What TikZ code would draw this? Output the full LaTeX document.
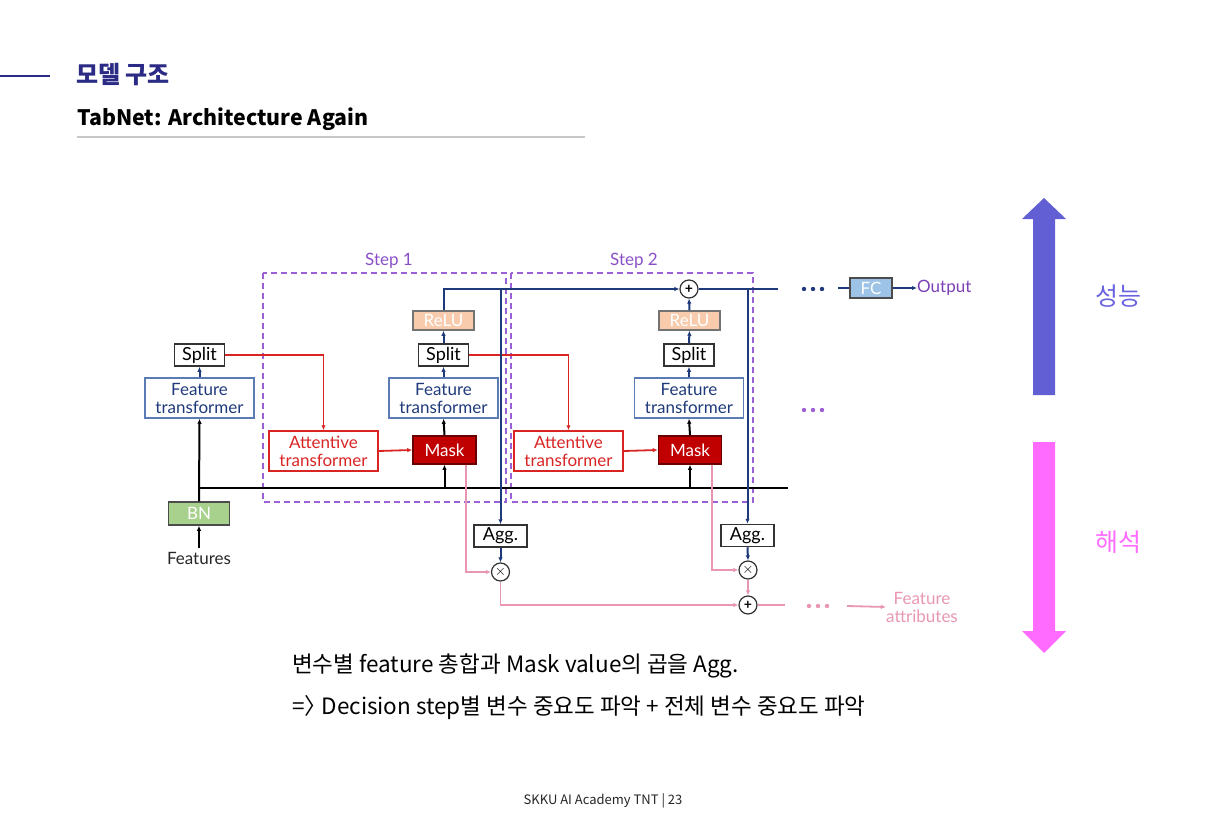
\documentclass[tikz,border=0pt]{standalone}
\usepackage{fontspec}
\setmainfont{Noto Sans CJK KR}
\newfontfamily\krfont{Noto Sans CJK KR}
\newfontfamily\dgfont{Lato}
\usetikzlibrary{arrows.meta,calc}

\definecolor{titlenavy}{HTML}{2B2A85}
\definecolor{navy}{HTML}{1F3A7A}
\definecolor{ftblue}{HTML}{5B7BB5}
\definecolor{atred}{HTML}{D92424}
\definecolor{maskred}{HTML}{C00000}
\definecolor{maskedge}{HTML}{6B0000}
\definecolor{pinkline}{HTML}{E896B4}
\definecolor{stepviolet}{HTML}{9B5FD6}
\definecolor{steptext}{HTML}{8A4FC8}
\definecolor{outviolet}{HTML}{7A3FB5}
\definecolor{relufill}{HTML}{F8CBAD}
\definecolor{bnfill}{HTML}{A9D18E}
\definecolor{fcfill}{HTML}{9DC3E6}
\definecolor{perfarrow}{HTML}{625ED4}
\definecolor{perftext}{HTML}{6A64E0}
\definecolor{interparrow}{HTML}{FF6BFF}
\definecolor{rulegray}{HTML}{C8C8C8}

\begin{document}
\begin{tikzpicture}[x=1pt,y=-1pt,
  dg/.style={font=\dgfont\fontsize{17}{18}\selectfont},
  blk/.style={draw, rectangle, inner sep=0pt, align=center, line width=1.5pt, dg},
  ftbox/.style={blk, draw=ftblue, text=navy, minimum width=109pt, minimum height=40pt},
  splitbox/.style={blk, draw=black!80, fill=white, minimum width=50pt, minimum height=22pt, font=\dgfont\fontsize{18}{19}\selectfont},
  relubox/.style={blk, draw=black!55, fill=relufill, text=white, minimum width=61pt, minimum height=19pt},
  maskbox/.style={blk, draw=maskedge, fill=maskred, text=white, minimum width=63pt, minimum height=28pt},
  atbox/.style={blk, draw=atred, text=atred, minimum width=109pt, minimum height=40pt},
  aggbox/.style={blk, draw=black!80, fill=white, minimum width=53pt, minimum height=22pt, font=\dgfont\fontsize{18}{19}\selectfont},
  opnode/.style={draw=black!80, circle, fill=white, minimum size=18pt, inner sep=0pt, line width=1.2pt, font=\dgfont\bfseries\fontsize{14}{14}\selectfont},
  tip/.style={-{Latex[length=5pt,width=4.5pt]}},
  navyline/.style={draw=navy, line width=2pt},
  blackline/.style={draw=black, line width=2pt},
  redline/.style={draw=atred, line width=1.8pt},
  pinkl/.style={draw=pinkline, line width=1.8pt},
  stepframe/.style={draw=stepviolet, dash pattern=on 6pt off 4pt, line width=1.8pt},
]
\useasboundingbox (0,0) rectangle (1207,832);

% ---- header ----
\coordinate (hl1) at (0,76);
\coordinate (hl2) at (50,76);
\draw[draw=titlenavy, line width=1.2pt] (hl1) -- (hl2);
\node[anchor=west, inner sep=0pt, text=titlenavy, font=\krfont\bfseries\fontsize{24}{27}\selectfont] (sect) at (76,75) {모델 구조};
\node[anchor=base west, inner sep=0pt, font=\krfont\bfseries\fontsize{21.3}{26}\selectfont] (title) at (77,125) {TabNet: Architecture Again};
\coordinate (rl1) at (77,137);
\coordinate (rl2) at (585,137);
\draw[draw=rulegray, line width=1.5pt] (rl1) -- (rl2);

% ---- decision step frames ----
\draw[stepframe] (263,273) rectangle (506,502);
\draw[stepframe] (511,273) rectangle (753,502);
\node[dg, text=steptext] (s1lab) at (389,261) {Step 1};
\node[dg, text=steptext] (s2lab) at (634,261) {Step 2};

% ---- blocks ----
\node[dg, text=black!85] (feat) at (199,558) {Features};
\node[blk, draw=black!70, fill=bnfill, text=white, minimum width=61pt, minimum height=23pt] (bn) at (199,513.5) {BN};
\node[ftbox] (ft0) at (199.5,398) {Feature\\transformer};
\node[splitbox] (sp0) at (199.5,355) {Split};

\node[atbox] (at1) at (323.5,451) {Attentive\\transformer};
\node[maskbox] (mk1) at (444.5,450) {Mask};
\node[ftbox] (ft1) at (443.5,398) {Feature\\transformer};
\node[splitbox] (sp1) at (443.5,355) {Split};
\node[relubox] (ru1) at (443.5,320.5) {ReLU};

\node[atbox] (at2) at (568.5,451) {Attentive\\transformer};
\node[maskbox] (mk2) at (690,450) {Mask};
\node[ftbox] (ft2) at (689,398) {Feature\\transformer};
\node[splitbox] (sp2) at (689,355) {Split};
\node[relubox] (ru2) at (689.5,320.5) {ReLU};
\node[opnode] (pl) at (689,289) {+};

\node[aggbox] (ag1) at (500.5,536) {Agg.};
\node[aggbox] (ag2) at (747.5,535.5) {Agg.};
\node[opnode] (mu1) at (500.5,572) {$\times$};
\node[opnode] (mu2) at (748,570) {$\times$};
\node[opnode] (ad) at (748,605) {+};

\node[blk, draw=black!70, fill=fcfill, text=white, minimum width=42pt, minimum height=20pt] (fc) at (871,288) {FC};
\node[dg, anchor=west, inner sep=0pt, text=outviolet] (out) at (917,288) {Output};
\node[dg, text=pinkline, align=center, inner sep=0pt] (fa) at (922,607) {Feature\\attributes};

% ---- shared feature bus ----
\coordinate (busL) at (199,488);
\coordinate (busR) at (788,488);
\draw[blackline] (busL) -- (busR);
\draw[blackline, tip] (feat.north) -- (bn.south);
\draw[blackline, tip] (bn.north) -- (ft0.south);
\draw[blackline, tip] (mk1.south |- busL) -- (mk1.south);
\draw[blackline, tip] (mk2.south |- busL) -- (mk2.south);
\draw[blackline, tip] (mk1.north) -- (ft1.south);
\draw[blackline, tip] (mk2.north) -- (ft2.south);

% ---- feature transformer chains ----
\draw[navyline, tip] (ft0.north) -- (sp0.south);
\draw[navyline, tip] (ft1.north) -- (sp1.south);
\draw[navyline, tip] (sp1.north) -- (ru1.south);
\draw[navyline, tip] (ft2.north) -- (sp2.south);
\draw[navyline, tip] (sp2.north) -- (ru2.south);
\draw[navyline, tip] (ru2.north) -- (pl.south);

% ---- attentive paths ----
\draw[redline, tip] (sp0.east) -| (at1.north);
\draw[redline, tip] (sp1.east) -| (at2.north);
\draw[redline, tip] (at1.east) -- (mk1.west);
\draw[redline, tip] (at2.east) -- (mk2.west);

% ---- decision output path ----
\coordinate (j1) at (ag1.north |- pl.west);
\coordinate (j2) at (ag2.north |- pl.east);
\coordinate (outEnd) at (778,289);
\draw[navyline, tip] (ru1.north) |- (pl.west);
\draw[navyline] (pl.east) -- (outEnd);
\draw[navyline, tip] (j1) -- (ag1.north);
\draw[navyline, tip] (j2) -- (ag2.north);
\draw[navyline, tip] (ag1.south) -- (mu1.north);
\draw[navyline, tip] (ag2.south) -- (mu2.north);
\foreach \dx in {804,813,822} \fill[navy] (\dx,289) circle (2.2pt);
\coordinate (fcIn) at (838,288);
\draw[navyline] (fcIn) -- (fc.west);
\draw[navyline, tip] (fc.east) -- (out.west);
\foreach \dx in {804,813,822} \fill[stepviolet] (\dx,410) circle (2.2pt);

% ---- feature attribution path ----
\draw[pinkl, tip] ($(mk1.south east)+(-11,0)$) |- (mu1.west);
\draw[pinkl, tip] ($(mk2.south east)+(-10,0)$) |- (mu2.west);
\draw[pinkl, tip] (mu1.south) |- (ad.west);
\draw[pinkl, tip] (mu2.south) -- (ad.north);
\coordinate (adEnd) at (785,605);
\draw[pinkl] (ad.east) -- (adEnd);
\foreach \dx in {809,818,827} \fill[pinkline] (\dx,606) circle (2.2pt);
\coordinate (faIn) at (847,606);
\draw[pinkl, tip] (faIn) -- (fa.west);

% ---- performance / interpretability arrows ----
\fill[perfarrow] (1033,395) -- (1033,219) -- (1022,219) -- (1044,198) -- (1066,219) -- (1055,219) -- (1055,395) -- cycle;
\fill[interparrow] (1033,442) -- (1033,631) -- (1022,631) -- (1044,653) -- (1066,631) -- (1055,631) -- (1055,442) -- cycle;
\node[text=perftext, font=\krfont\fontsize{25}{28}\selectfont] (perf) at (1118,296) {성능};
\node[text=interparrow, font=\krfont\fontsize{25}{28}\selectfont] (interp) at (1118,542) {해석};

% ---- notes ----
\node[anchor=west, inner sep=0pt, font=\krfont\fontsize{22.5}{26}\selectfont] (note1) at (292,666) {변수별 feature 총합과 Mask value의 곱을 Agg.};
\node[anchor=west, inner sep=0pt, font=\krfont\fontsize{22.5}{26}\selectfont] (note2) at (292,708) {=〉\hspace{-0.25em}Decision step별 변수 중요도 파악 + 전체 변수 중요도 파악};
\node[font=\krfont\fontsize{13}{15}\selectfont, text=black!85] (foot) at (603,801) {SKKU AI Academy TNT | 23};
\end{tikzpicture}
\end{document}
